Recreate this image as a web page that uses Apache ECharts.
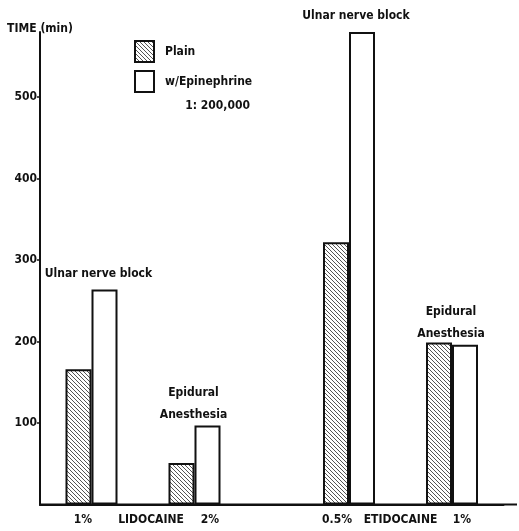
<!DOCTYPE html>
<html><head><meta charset="utf-8">
<script src="https://cdn.jsdelivr.net/npm/echarts@6/dist/echarts.min.js"></script>
<style>html,body{margin:0;padding:0;background:#fff}#c{width:519px;height:531px}</style>
</head><body><div id="c"></div>
<script>
const categories = ['', '1%', 'LIDOCAINE', '2%', '', '', '0.5%', 'ETIDOCAINE', '1%', ''];
const plainValues = [null, 166, null, 51, null, null, 322, null, 199, null];
const epiValues = [null, 264, null, 97, null, null, 580, null, 196, null];
const notes = [null, 'Ulnar nerve block', null, 'Epidural\nAnesthesia', null, null, 'Ulnar nerve block', null, 'Epidural\nAnesthesia', null];
const yTicks = [100, 200, 300, 400, 500];
const seriesNames = ['Plain', 'w/Epinephrine'];
const legendNote = '1: 200,000';
const yName = 'TIME (min)';

const FONT = '"Liberation Sans Narrow", "DejaVu Sans Condensed", "Roboto Condensed", sans-serif';
const INK = '#111';

const pc = document.createElement('canvas'); pc.width = 4; pc.height = 4;
const g = pc.getContext('2d');
g.fillStyle = '#fff'; g.fillRect(0, 0, 4, 4);
g.strokeStyle = '#555'; g.lineWidth = 1;
g.beginPath();
g.moveTo(-1, -1); g.lineTo(5, 5);
g.moveTo(3, -1); g.lineTo(5, 1);
g.moveTo(-1, 3); g.lineTo(1, 5);
g.stroke();

const labelShift = { 'Ulnar nerve block': -6, 'Epidural\nAnesthesia': -14 };
const labelDist = { 'Ulnar nerve block': 5, 'Epidural\nAnesthesia': 0 };

const chart = echarts.init(document.getElementById('c'), null, { renderer: 'canvas' });
chart.setOption({
  animation: false,
  backgroundColor: '#fff',
  textStyle: { fontFamily: FONT, color: INK, fontWeight: 'bold' },
  grid: { left: 40, right: 15.5, top: 32, bottom: 26.5, containLabel: false },
  legend: {
    orient: 'vertical', left: 134, top: 40, padding: 0, itemWidth: 19, itemHeight: 21, itemGap: 7,
    icon: 'rect',
    textStyle: { fontFamily: FONT, fontSize: 12, fontWeight: 'bold', color: INK, padding: [0, 0, 0, 6] },
    data: seriesNames
  },
  graphic: [
    { type: 'text', right: 519 - 250, top: 100,
      style: { text: legendNote, font: 'bold 12px ' + FONT, fill: INK } },
    { type: 'line', z: 100, shape: { x1: 39, y1: 504.5, x2: 517, y2: 504.5 },
      style: { stroke: INK, lineWidth: 2 } }
  ],
  xAxis: {
    type: 'category', data: categories, boundaryGap: false,
    axisLine: { lineStyle: { color: INK, width: 2 } },
    axisTick: { show: false },
    axisLabel: {
      interval: 0, margin: 9, color: INK, fontSize: 12, fontWeight: 'bold', fontFamily: FONT,
      formatter: function (v, i) {
        if (!v) return '';
        const map = { 1: 'l', 2: 'r', 3: 'rr', 6: 'll', 7: 'n', 8: 'r2' };
        return '{' + (map[i] || 'n') + '|' + v + '}';
      },
      rich: {
        n: { fontSize: 12, fontWeight: 'bold', fontFamily: FONT, color: INK },
        l: { fontSize: 12, fontWeight: 'bold', fontFamily: FONT, color: INK, padding: [0, 17, 0, 0] },
        ll: { fontSize: 12, fontWeight: 'bold', fontFamily: FONT, color: INK, padding: [0, 24, 0, 0] },
        r: { fontSize: 12, fontWeight: 'bold', fontFamily: FONT, color: INK, padding: [0, 0, 0, 16] },
        r2: { fontSize: 12, fontWeight: 'bold', fontFamily: FONT, color: INK, padding: [0, 0, 0, 20] },
        rr: { fontSize: 12, fontWeight: 'bold', fontFamily: FONT, color: INK, padding: [0, 0, 0, 31] }
      }
    },
    splitLine: { show: false }
  },
  yAxis: {
    type: 'value', min: 0, max: 580,
    name: yName, nameLocation: 'end', nameGap: -3,
    nameTextStyle: { fontFamily: FONT, fontSize: 12, fontWeight: 'bold', color: INK, align: 'center' },
    axisLine: { show: true, lineStyle: { color: INK, width: 2 } },
    axisTick: { show: true, length: 3, customValues: yTicks, lineStyle: { color: INK, width: 1.5 } },
    axisLabel: { customValues: yTicks, margin: 3, color: INK, fontSize: 12, fontWeight: 'bold', fontFamily: FONT },
    splitLine: { show: false }
  },
  series: [
    {
      name: seriesNames[0], type: 'bar', barWidth: 26, barGap: '0%',
      data: plainValues.map(v => v == null ? '-' : v),
      itemStyle: { color: { image: pc, repeat: 'repeat' }, borderColor: INK, borderWidth: 2 }
    },
    {
      name: seriesNames[1], type: 'bar', barWidth: 26, barGap: '0%',
      data: epiValues.map((v, i) => v == null ? '-' : {
        value: v,
        label: {
          show: true, position: 'top', distance: labelDist[notes[i]],
          offset: [labelShift[notes[i]] || 0, 0],
          formatter: notes[i], lineHeight: 22,
          fontFamily: FONT, fontSize: 12, fontWeight: 'bold', color: INK
        }
      }),
      itemStyle: { color: '#fff', borderColor: INK, borderWidth: 2 }
    }
  ]
});
</script></body></html>
